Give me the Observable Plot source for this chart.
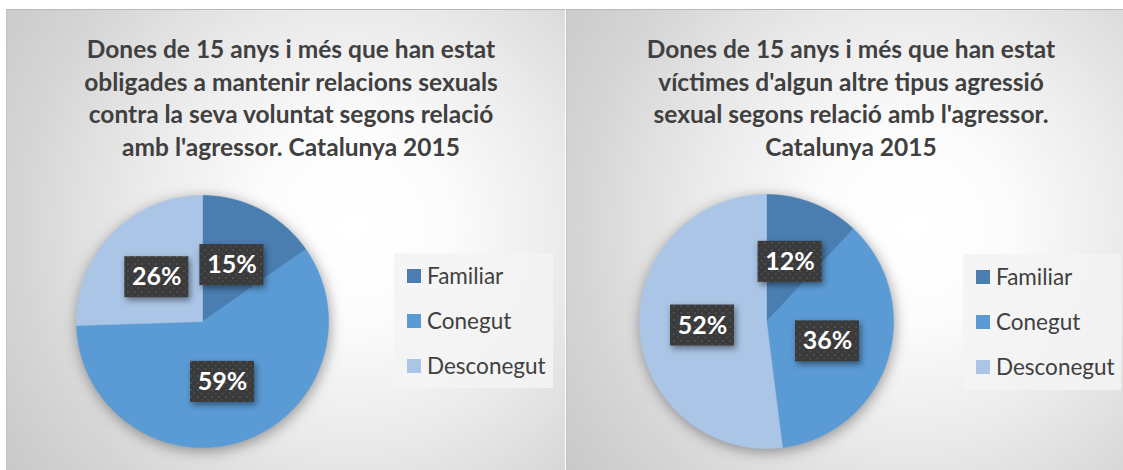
<!DOCTYPE html>
<html>
<head>
<meta charset="utf-8">
<script src="https://cdn.jsdelivr.net/npm/d3@7"></script>
<script src="https://cdn.jsdelivr.net/npm/@observablehq/plot@0.6"></script>
<style>
  html, body { margin: 0; padding: 0; background: #ffffff; }
  body { width: 1123px; height: 470px; position: relative; overflow: hidden; font-family: Lato, "Open Sans", sans-serif; }
  .panel {
    position: absolute; top: 9px; height: 470px;
    border-top: 1px solid #b9b9b9; border-left: 1px solid #c4c4c4;
    background: radial-gradient(circle farthest-corner at 62% 46%, #ffffff 0%, #fcfcfc 22%, #e9e9e9 52%, #d5d5d5 78%, #c8c8c8 100%);
    overflow: hidden;
  }
  .title {
    position: absolute; left: 0; width: 568px; top: 23px;
    text-align: center; color: #404040; font-weight: bold; font-size: 24.5px; line-height: 32.7px;
    font-family: Lato, sans-serif;
  }
  .legend {
    position: absolute; background: rgba(244,244,244,0.88);
  }
  .legend .item { position: absolute; left: 13px; height: 14px; }
  .legend .sw { position: absolute; left: 0; top: 0; width: 14px; height: 14px; }
  .legend .lab { position: absolute; left: 20px; top: -7px; line-height: 28px; font-size: 22.5px; color: #404040; white-space: nowrap; font-family: Lato, sans-serif; }
  .chart { position: absolute; left: 0; top: 0; }
  .chart svg { background: transparent; overflow: visible; }
</style>
</head>
<body>
<svg width="0" height="0" style="position:absolute">
  <defs>
    <pattern id="dots" width="7" height="7" patternUnits="userSpaceOnUse">
      <rect width="7" height="7" fill="#3a3a3a"></rect>
      <rect x="1" y="1" width="2" height="2" fill="#4e4e4e"></rect>
      <rect x="4.5" y="4.5" width="2" height="2" fill="#474747"></rect>
    </pattern>
  </defs>
</svg>
<div id="p1" class="panel" style="left:6px; width:558px;"></div>
<div id="p2" class="panel" style="left:566px; width:557px;"></div>
<script>
// ---- data ----
const categories = ["Familiar", "Conegut", "Desconegut"];
const colors = ["#4a7eb1", "#5b9bd5", "#aac5e6"];
const values1 = [15.3, 59.2, 25.5];
const values2 = [12, 36, 52];
const title1 = ["Dones de 15 anys i més que han estat", "obligades a mantenir relacions sexuals", "contra la seva voluntat segons relació", "amb l'agressor. Catalunya 2015"];
const title2 = ["Dones de 15 anys i més que han estat", "víctimes d'algun altre tipus agressió", "sexual segons relació amb l'agressor.", "Catalunya 2015"];

function makeSlices(values) {
  const total = d3.sum(values);
  let acc = 0;
  return values.map((v, i) => {
    const a0 = acc / total * 2 * Math.PI;
    acc += v;
    const a1 = acc / total * 2 * Math.PI;
    const mid = (a0 + a1) / 2;
    return {cat: categories[i], v, a0, a1, lx: 0.505 * Math.sin(mid), ly: 0.505 * Math.cos(mid)};
  });
}
function slicePoints(slices) {
  const pts = [];
  for (const s of slices) {
    pts.push({cat: s.cat, x: 0, y: 0});
    const n = Math.max(2, Math.ceil((s.a1 - s.a0) / (Math.PI / 360)));
    for (let k = 0; k <= n; k++) {
      const a = s.a0 + (s.a1 - s.a0) * k / n;
      pts.push({cat: s.cat, x: Math.sin(a), y: Math.cos(a)});
    }
    pts.push({cat: s.cat, x: 0, y: 0});
  }
  return pts;
}

function buildPanel(el, values, titleLines, geo) {
  const t = document.createElement("div");
  t.className = "title";
  t.style.left = geo.titleLeft + "px";
  t.innerHTML = titleLines.join("<br>");
  el.appendChild(t);

  const slices = makeSlices(values);
  const r = geo.r;
  const hw = 32 / r, hh = 20.5 / r;
  const chart = Plot.plot({
    width: 557, height: 461, margin: 0,
    x: {domain: [-1, 1], range: [geo.cx - r, geo.cx + r], axis: null},
    y: {domain: [-1, 1], range: [geo.cy + r, geo.cy - r], axis: null},
    color: {domain: categories, range: colors},
    style: {background: "transparent"},
    marks: [
      Plot.line(slicePoints(slices), {x: "x", y: "y", z: "cat", fill: "cat", stroke: "cat", strokeWidth: 0.6}),
      Plot.rect(slices, {x1: d => d.lx - hw, x2: d => d.lx + hw, y1: d => d.ly - hh, y2: d => d.ly + hh, fill: "url(#dots)"}),
      Plot.text(slices, {x: "lx", y: "ly", text: d => Math.round(d.v) + "%", fill: "white", fontSize: 25, fontWeight: "bold", fontFamily: "Lato, sans-serif"})
    ]
  });
  const wrap = document.createElement("div");
  wrap.className = "chart";
  wrap.appendChild(chart);
  el.appendChild(wrap);
  const lineG = chart.querySelector('g[aria-label="line"]');
  if (lineG) lineG.style.filter = "drop-shadow(1px 3px 7px rgba(0,0,0,0.38))";
  const rectG = chart.querySelector('g[aria-label="rect"]');
  if (rectG) rectG.style.filter = "drop-shadow(2px 3px 3px rgba(0,0,0,0.45))";

  const lg = document.createElement("div");
  lg.className = "legend";
  Object.assign(lg.style, {left: geo.lgLeft + "px", top: geo.lgTop + "px", width: geo.lgW + "px", height: geo.lgH + "px"});
  categories.forEach((c, i) => {
    const it = document.createElement("div");
    it.className = "item";
    it.style.top = (16 + i * 45) + "px";
    it.innerHTML = `<div class="sw" style="background:${colors[i]}"></div><div class="lab">${c}</div>`;
    lg.appendChild(it);
  });
  el.appendChild(lg);
}

buildPanel(document.getElementById("p1"), values1, title1,
  {cx: 195, cy: 311, r: 126, titleLeft: 0, lgLeft: 387, lgTop: 243, lgW: 159, lgH: 135});
buildPanel(document.getElementById("p2"), values2, title2,
  {cx: 199, cy: 311, r: 127, titleLeft: 0, lgLeft: 396, lgTop: 244, lgW: 158, lgH: 136});
</script>
</body>
</html>
